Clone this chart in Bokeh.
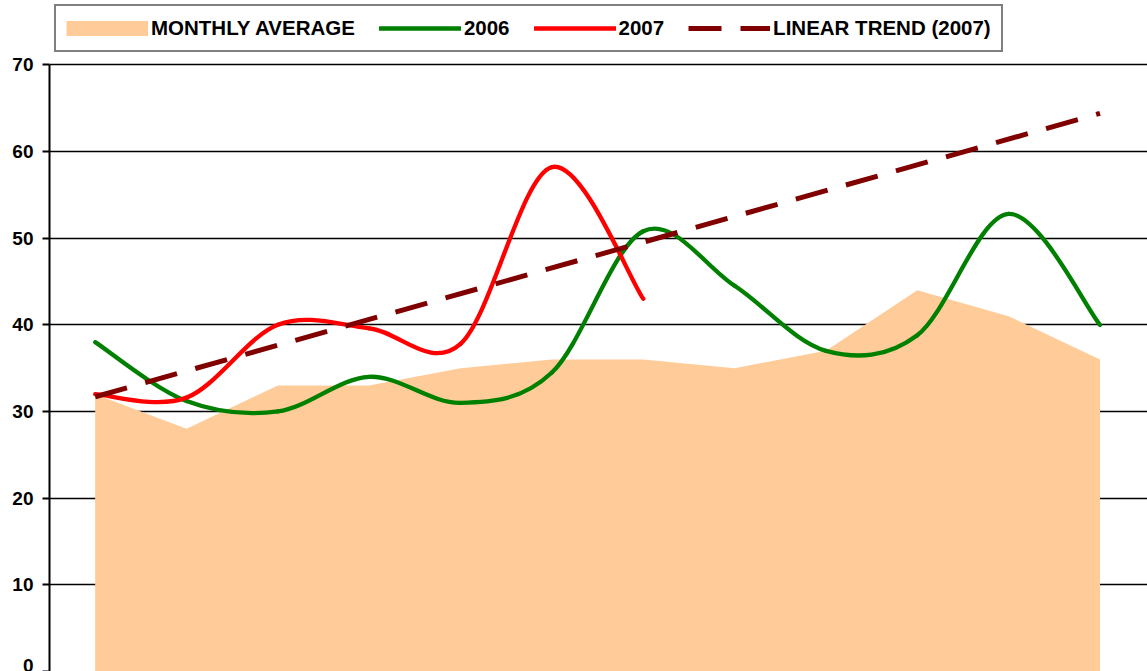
import numpy as np
from bokeh.plotting import figure
from bokeh.models import Range1d, FixedTicker, Legend, LegendItem, ColumnDataSource
from bokeh.embed import file_html
from bokeh.resources import INLINE

# ---- data ----
MONTHS = ["Jan", "Feb", "Mar", "Apr", "May", "Jun", "Jul", "Aug", "Sep", "Oct", "Nov", "Dec"]
MONTHLY_AVERAGE = [32, 28, 33, 33, 35, 36, 36, 35, 37, 44, 41, 36]
SERIES_2006 = [38, 31.2, 30, 34, 31, 34.5, 50.8, 44.5, 37, 38.8, 52.8, 40]
SERIES_2007 = [32, 31.6, 40, 39.6, 37.8, 58.2, 43]
TREND_2007_MONTHS = ["Jan", "Dec"]
TREND_2007 = [31.7, 64.4]
Y_TICKS = [0, 10, 20, 30, 40, 50, 60, 70]
LEGEND_LABELS = ["MONTHLY AVERAGE", "2006", "2007", "LINEAR TREND (2007)"]

COL_AVG = "#FFCC99"
COL_2006 = "#008000"
COL_2007 = "#FF0000"
COL_TREND = "#800000"
FONT = "Liberation Sans"

pos = {m: i + 1 for i, m in enumerate(MONTHS)}


def smooth_source(months, values):
    """Bezier segments (Catmull-Rom style) through the data points, like a smoothed line."""
    xs = [pos[m] for m in months]
    pts = list(zip(xs, values))
    n = len(pts)
    d = dict(x0=[], y0=[], x1=[], y1=[], cx0=[], cy0=[], cx1=[], cy1=[])
    for i in range(n - 1):
        p0 = pts[max(i - 1, 0)]
        p1 = pts[i]
        p2 = pts[i + 1]
        p3 = pts[min(i + 2, n - 1)]
        d["x0"].append(p1[0]); d["y0"].append(p1[1])
        d["x1"].append(p2[0]); d["y1"].append(p2[1])
        d["cx0"].append(p1[0] + (p2[0] - p0[0]) / 6.0)
        d["cy0"].append(p1[1] + (p2[1] - p0[1]) / 6.0)
        d["cx1"].append(p2[0] - (p3[0] - p1[0]) / 6.0)
        d["cy1"].append(p2[1] - (p3[1] - p1[1]) / 6.0)
    return ColumnDataSource(d)


W, H = 1147, 671
FRAME_LEFT = 49
# the frame runs to the top of the canvas so the legend can sit above the 70 line
p = figure(width=W, height=H,
           x_range=Range1d(0.5, 12.52), y_range=Range1d(0, 77.42),
           x_axis_location=None,
           output_backend="svg", toolbar_location=None,
           min_border_left=FRAME_LEFT, min_border_right=0,
           min_border_top=0, min_border_bottom=0)
p.outline_line_color = None
p.background_fill_color = "white"
p.border_fill_color = "white"

# y axis
yax = p.yaxis[0]
yax.ticker = FixedTicker(ticks=Y_TICKS)
yax.bounds = (Y_TICKS[0], Y_TICKS[-1])
yax.axis_line_width = 2
yax.axis_line_color = "black"
yax.major_tick_line_width = 2
yax.major_tick_line_color = "black"
yax.major_tick_out = 7
yax.major_tick_in = 0
yax.minor_tick_out = 0
yax.minor_tick_in = 0
yax.major_label_standoff = 9
yax.major_label_text_font = FONT
yax.major_label_text_font_style = "bold"
yax.major_label_text_font_size = "19px"
yax.major_label_text_color = "black"

p.ygrid.ticker = FixedTicker(ticks=Y_TICKS)
p.ygrid.grid_line_color = "black"
p.ygrid.grid_line_width = 1.6
p.xgrid.grid_line_color = None

# monthly average area
x_all = [pos[m] for m in MONTHS]
p.varea(x=x_all, y1=[0] * len(MONTHS), y2=MONTHLY_AVERAGE, fill_color=COL_AVG, fill_alpha=1)

# smoothed yearly lines
r06 = p.bezier(x0="x0", y0="y0", x1="x1", y1="y1", cx0="cx0", cy0="cy0", cx1="cx1", cy1="cy1",
               source=smooth_source(MONTHS, SERIES_2006),
               line_color=COL_2006, line_width=4.3, line_cap="round", line_join="round")
r07 = p.bezier(x0="x0", y0="y0", x1="x1", y1="y1", cx0="cx0", cy0="cy0", cx1="cx1", cy1="cy1",
               source=smooth_source(MONTHS[:len(SERIES_2007)], SERIES_2007),
               line_color=COL_2007, line_width=4.3, line_cap="round", line_join="round")

# linear trend
rtr = p.line(x=[pos[m] for m in TREND_2007_MONTHS], y=TREND_2007,
             line_color=COL_TREND, line_width=5, line_dash="33 19", line_cap="butt")

# legend swatch for the area (a thick band, as in the original legend); nothing is drawn in the plot
sw_avg = p.line(x=[float("nan")], y=[float("nan")], line_color=COL_AVG, line_width=15, line_cap="butt")

LEG_H = 45
legend = Legend(
    items=[
        LegendItem(label=LEGEND_LABELS[0], renderers=[sw_avg]),
        LegendItem(label=LEGEND_LABELS[1], renderers=[r06]),
        LegendItem(label=LEGEND_LABELS[2], renderers=[r07]),
        LegendItem(label=LEGEND_LABELS[3], renderers=[rtr]),
    ],
    orientation="horizontal",
    location=(5, H - 7 - LEG_H),
    glyph_width=82, glyph_height=22, label_height=22,
    label_standoff=3, spacing=24, padding=10, margin=0,
    border_line_color="black", border_line_width=2,
    background_fill_color="white", background_fill_alpha=1,
    label_text_font=FONT, label_text_font_style="bold",
    label_text_font_size="20.5px", label_text_color="black",
)
p.add_layout(legend, "center")

open("out.html", "w").write(file_html(p, INLINE))
